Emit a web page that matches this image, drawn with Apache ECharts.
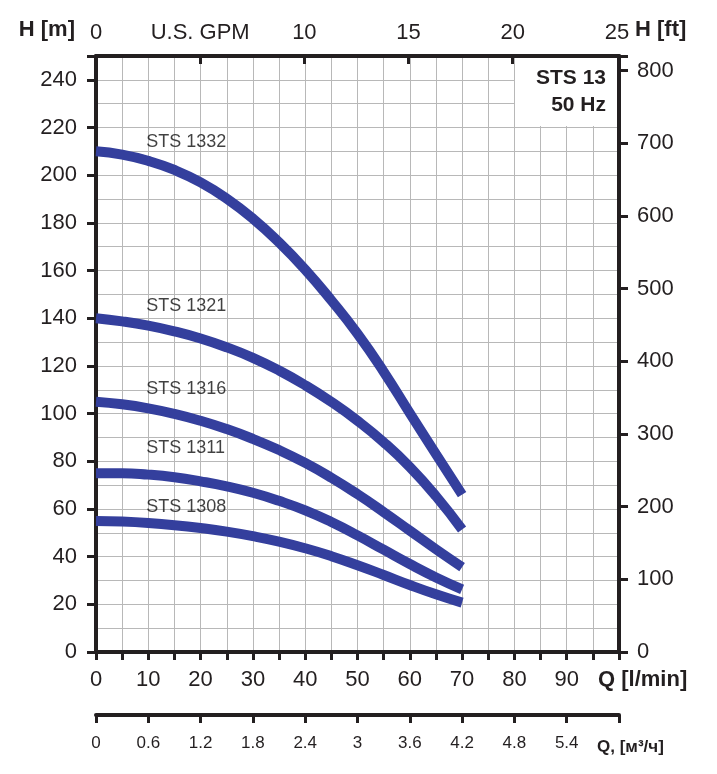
<!DOCTYPE html>
<html>
<head>
<meta charset="utf-8">
<title>STS 13 50 Hz</title>
<script src="https://cdn.jsdelivr.net/npm/echarts@6/dist/echarts.min.js"></script>
<style>
    html, body { margin: 0; padding: 0; background: #fff; }
    #chart { width: 717px; height: 774px; }
</style>
</head>
<body>
<div id="chart"></div>
<script>
// расход, л/мин
const flowLpm = [0, 5, 10, 15, 20, 25, 30, 35, 40, 45, 50, 55, 60, 65, 70];

// напор, м
const h1332 = [210, 208.6, 206, 202.2, 197, 190.2, 181.8, 171.8, 160.4, 147.5, 133.5, 117.6, 100.2, 83, 66];
const h1321 = [140, 138.7, 136.9, 134.5, 131.5, 127.8, 123.4, 118.1, 111.9, 104.9, 97, 88, 77.6, 65.4, 51.4];
const h1316 = [105, 103.9, 102.2, 99.9, 97, 93.5, 89.4, 84.7, 79.3, 73.1, 66.2, 58.7, 50.9, 43.1, 35.6];
const h1311 = [75, 75, 74.4, 73.3, 71.6, 69.5, 66.8, 63.4, 59.4, 54.5, 48.9, 42.9, 36.9, 31.3, 26.3];
const h1308 = [55, 54.7, 54.1, 53.2, 52, 50.5, 48.6, 46.3, 43.5, 40.2, 36.4, 32.3, 28.1, 24.2, 20.7];

const pumpNames = ["STS 1332", "STS 1321", "STS 1316", "STS 1311", "STS 1308"];
const pumpHeads = [h1332, h1321, h1316, h1311, h1308];

// где стоят подписи кривых (л/мин, м)
const labelQ = [9.6, 9.6, 9.6, 9.6, 9.6];
const labelH = [214, 145, 110.3, 85.5, 60.6];

const TEXT = "#231f20";
const CURVE = "#343f9d";
const GRIDC = "#b8b8b8";
const FONT = "Liberation Sans, Arial, sans-serif";

const chart = echarts.init(document.getElementById("chart"), null, { renderer: "canvas" });

// у каждой оси свой объект, иначе echarts их путает
function axisLine() {
    return { show: true, onZero: false, lineStyle: { color: TEXT, width: 4 } };
}
function tick(len, inside) {
    return { show: true, inside: !!inside, length: len, lineStyle: { color: TEXT, width: 3 } };
}
function gridLine() {
    return { show: true, lineStyle: { color: GRIDC, width: 1 } };
}

/**
 * кривые насосов
 */
const curveSeries = pumpNames.map((name, i) => ({
    name,
    type: "line",
    xAxisIndex: 0,
    yAxisIndex: 0,
    data: flowLpm.map((q, k) => [q, pumpHeads[i][k]]),
    smooth: 0.5,
    symbol: "none",
    z: 3,
    lineStyle: { color: CURVE, width: 10, cap: "butt" },
}));

// подписи кривых
const labelSeries = {
    type: "scatter",
    xAxisIndex: 0,
    yAxisIndex: 0,
    symbolSize: 0,
    silent: true,
    z: 4,
    data: pumpNames.map((name, i) => [labelQ[i], labelH[i], name]),
    label: {
        show: true,
        position: "right",
        distance: 0,
        formatter: p => p.data[2],
        color: "#111",
        fontSize: 18,
        fontFamily: FONT,
    },
};

const option = {
    animation: false,
    backgroundColor: "#fff",
    grid: { left: 96, right: 98, top: 56, bottom: 122, containLabel: false },
    xAxis: [
        {
            // л/мин
            type: "value",
            position: "bottom",
            min: 0,
            max: 100,
            interval: 10,
            axisLine: axisLine(),
            axisTick: tick(8),
            minorTick: { show: true, splitNumber: 2, length: 8, lineStyle: { color: TEXT, width: 3 } },
            splitLine: gridLine(),
            minorSplitLine: gridLine(),
            axisLabel: {
                margin: 17,
                color: TEXT,
                fontSize: 22,
                fontFamily: FONT,
                formatter: v => (v >= 100 ? "" : String(v)),
            },
        },
        {
            // U.S. GPM
            type: "value",
            position: "top",
            min: 0,
            max: 25.1,
            interval: 5,
            axisLine: axisLine(),
            axisTick: tick(8, true),
            splitLine: { show: false },
            axisLabel: {
                margin: 12,
                color: TEXT,
                fontSize: 22,
                fontFamily: FONT,
                showMaxLabel: false,
                formatter: v => {
                    if (v === 5) return "U.S. GPM";
                    if (v % 5 !== 0) return "";
                    return String(v);
                },
            },
        },
        {
            // м³/ч
            type: "value",
            position: "bottom",
            offset: 63,
            min: 0,
            max: 6,
            interval: 0.6,
            axisLine: axisLine(),
            axisTick: tick(8),
            splitLine: { show: false },
            axisLabel: {
                margin: 20,
                color: TEXT,
                fontSize: 17,
                fontFamily: FONT,
                formatter: v => (v > 5.9 ? "" : String(+v.toFixed(1))),
            },
        },
    ],
    yAxis: [
        {
            // м
            type: "value",
            position: "left",
            min: 0,
            max: 250,
            interval: 20,
            axisLine: axisLine(),
            axisTick: tick(9),
            minorTick: { show: false, splitNumber: 2 },
            splitLine: gridLine(),
            minorSplitLine: gridLine(),
            axisLabel: {
                margin: 19,
                color: TEXT,
                fontSize: 22,
                fontFamily: FONT,
                formatter: v => (v % 20 === 0 ? String(v) : ""),
            },
        },
        {
            // футы
            type: "value",
            position: "right",
            min: 0,
            max: 250 / 0.3048,
            interval: 100,
            axisLine: axisLine(),
            axisTick: tick(9),
            splitLine: { show: false },
            axisLabel: {
                margin: 18,
                color: TEXT,
                fontSize: 22,
                fontFamily: FONT,
                formatter: v => (v % 100 === 0 ? String(v) : ""),
            },
        },
    ],
    graphic: [
        // белая плашка под названием серии
        {
            type: "rect",
            shape: { x: 515, y: 58, width: 102, height: 68 },
            style: { fill: "#fff" },
            z: 1,
        },
        {
            type: "text",
            x: 606,
            y: 78,
            z: 5,
            style: { text: "STS 13", align: "right", verticalAlign: "middle", fill: TEXT, font: "bold 21px " + FONT },
        },
        {
            type: "text",
            x: 606,
            y: 105,
            z: 5,
            style: { text: "50 Hz", align: "right", verticalAlign: "middle", fill: TEXT, font: "bold 21px " + FONT },
        },
        // подписи осей
        {
            type: "text",
            x: 75,
            y: 30,
            style: { text: "H [m]", align: "right", verticalAlign: "middle", fill: TEXT, font: "bold 22px " + FONT },
        },
        {
            type: "text",
            x: 635,
            y: 30,
            style: { text: "H [ft]", align: "left", verticalAlign: "middle", fill: TEXT, font: "bold 22px " + FONT },
        },
        {
            type: "text",
            x: 598,
            y: 680,
            style: { text: "Q [l/min]", align: "left", verticalAlign: "middle", fill: TEXT, font: "bold 22px " + FONT },
        },
        {
            type: "text",
            x: 597,
            y: 747,
            style: { text: "Q, [м³/ч]", align: "left", verticalAlign: "middle", fill: TEXT, font: "bold 17px " + FONT },
        },
    ],
    series: [...curveSeries, labelSeries],
};

chart.setOption(option);
</script>
</body>
</html>
